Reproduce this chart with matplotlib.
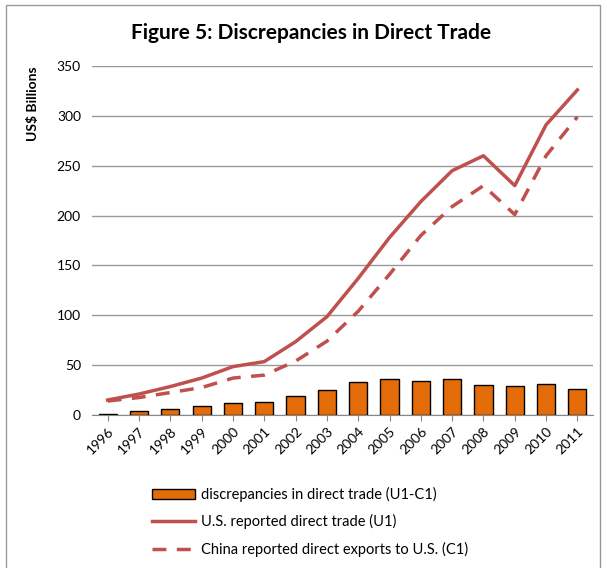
import matplotlib.pyplot as plt
from matplotlib.patches import Rectangle

years = ['1996', '1997', '1998', '1999', '2000', '2001', '2002', '2003',
         '2004', '2005', '2006', '2007', '2008', '2009', '2010', '2011']
# U.S. reported direct trade (U1)
us_trade = [15, 21, 28.5, 37, 48.5, 53.5, 73.5, 98.5,
            137, 178, 214, 245, 260, 230, 291, 326]
# China reported direct exports to U.S. (C1)
china_exports = [14, 17.5, 22.5, 27.5, 37, 40, 54, 74,
                 104, 141, 180, 209, 230, 201, 260, 299]
# discrepancies (U1-C1)
discrepancy = [1, 3.5, 6, 9.5, 12, 13.5, 19.5, 25,
               33, 36.5, 34.5, 36, 30, 29, 31, 26.5]

plt.rcParams['font.family'] = ['Lato', 'DejaVu Sans']

fig = plt.figure(figsize=(6.07, 5.68), dpi=100)
ax = fig.add_axes([0.1516, 0.2694, 0.8254, 0.6144])

x = list(range(len(years)))
bars = ax.bar(x, discrepancy, width=0.58, color='#E36C09', edgecolor='black', linewidth=1,
              label='discrepancies in direct trade (U1-C1)', zorder=3)
l1, = ax.plot(x, us_trade, color='#C0504D', linewidth=2.5,
              label='U.S. reported direct trade (U1)', zorder=4)
l2, = ax.plot(x, china_exports, color='#C0504D', linewidth=2.5, linestyle=(0, (4, 3)),
              label='China reported direct exports to U.S. (C1)', zorder=4)

ax.set_xlim(-0.5, len(years) - 0.5)
ax.set_ylim(0, 350)
ax.set_yticks(range(0, 351, 50))
ax.set_xticks(x)
ax.set_xticklabels(years, rotation=45, ha='right', rotation_mode='anchor', fontsize=10)
ax.tick_params(axis='y', labelsize=10, length=0, pad=8)
ax.tick_params(axis='x', length=4, color='#888888')
ax.grid(axis='y', color='#999999', linewidth=1, zorder=0)
for s in ['left', 'right', 'top']:
    ax.spines[s].set_visible(False)
ax.spines['bottom'].set_color('#888888')

ax.set_ylabel('US$ Billions', fontsize=10, fontweight='bold', loc='top')
ax.yaxis.set_label_coords(-0.105, 1.0)
fig.text(311 / 607, 1 - 33 / 568, 'Figure 5: Discrepancies in Direct Trade',
         fontsize=15, fontweight='bold', ha='center', va='center')

ax.legend([bars, l1, l2], [bars.get_label(), l1.get_label(), l2.get_label()],
          loc='upper left', bbox_to_anchor=(0.093, -0.168), frameon=False, fontsize=10.5,
          handlelength=3, labelspacing=0.85, handletextpad=0.4)

fig.patches.append(Rectangle((6 / 607, -0.01), 594 / 607, 1.0 - 5 / 568 + 0.01,
                             transform=fig.transFigure, fill=False,
                             edgecolor='#999999', linewidth=1))

fig.savefig('out.png', dpi=100)
